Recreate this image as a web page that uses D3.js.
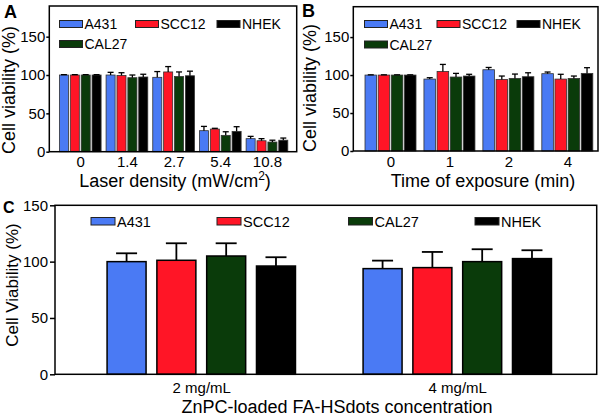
<!DOCTYPE html>
<html><head><meta charset="utf-8">
<script src="https://cdn.jsdelivr.net/npm/d3@7"></script>
<style>body{margin:0;background:#fff} svg{display:block} text{font-family:"Liberation Sans",Arial,sans-serif;fill:#000}</style>
</head><body><svg id="chart" width="600" height="417"></svg>
<script>
// ---------- data ----------
const seriesNames = ["A431", "SCC12", "CAL27", "NHEK"];
const seriesColors = ["#4a7af4", "#ff1526", "#0a3b0a", "#000000"];
const yTicks = [0, 50, 100, 150];

// Panel A: laser density
const laserDensity = ["0", "1.4", "2.7", "5.4", "10.8"];
const laserA431  = [100, 100, 97, 27.4, 17];
const laserSCC12 = [100, 99.5, 104, 29.5, 14.3];
const laserCAL27 = [100, 96.5, 98, 21.3, 12.6];
const laserNHEK  = [100, 97.4, 99, 26.5, 15];
const laserErrA431  = [0.5, 3.5, 7.5, 5.6, 3];
const laserErrSCC12 = [0.5, 3.5, 7, 1, 2.7];
const laserErrCAL27 = [0.5, 3.5, 6, 4.7, 2.4];
const laserErrNHEK  = [0.5, 3.6, 6, 6.1, 2.8];

// Panel B: time of exposure
const exposureTime = ["0", "1", "2", "4"];
const timeA431  = [100, 94.7, 107, 101.8];
const timeSCC12 = [100, 104.8, 94.3, 94.7];
const timeCAL27 = [100, 97.4, 95.6, 95.6];
const timeNHEK  = [100, 98.7, 97.8, 102.2];
const timeErrA431  = [0.3, 1.8, 3, 2.2];
const timeErrSCC12 = [0.3, 9.2, 4.4, 6.3];
const timeErrCAL27 = [0.3, 4.8, 5.7, 3.1];
const timeErrNHEK  = [0.3, 2.3, 5.2, 7.5];

// Panel C: concentration
const concentration = ["2 mg/mL", "4 mg/mL"];
const concA431  = [100, 93.8];
const concSCC12 = [101.2, 94.7];
const concCAL27 = [105, 100];
const concNHEK  = [96.1, 102.7];
const concErrA431  = [7.4, 7.1];
const concErrSCC12 = [15.1, 13.9];
const concErrCAL27 = [11.3, 11];
const concErrNHEK  = [7.8, 7.4];

// ---------- drawing ----------
const svg = d3.select("#chart");

function panel(o) {
  const g = svg.append("g");
  const y = d3.scaleLinear().domain([0, o.yMax]).range([o.y1, o.y0]);
  const x = d3.scalePoint().domain(o.cats).range([o.x0, o.x1]).padding(o.pad).align(o.align);
  const inner = d3.scaleBand().domain(seriesNames).range([-o.groupW / 2, o.groupW / 2]).paddingInner(o.innerPad);

  // bars
  seriesNames.forEach((name, si) => {
    const vals = o.vals[si], errs = o.errs[si];
    const sg = g.append("g");
    sg.selectAll("rect").data(o.cats).join("rect")
      .attr("x", (c) => x(c) + inner(name))
      .attr("width", inner.bandwidth())
      .attr("y", (c, i) => y(vals[i]))
      .attr("height", (c, i) => o.y1 - y(vals[i]))
      .attr("fill", seriesColors[si])
      .attr("stroke", o.barStroke)
      .attr("stroke-width", o.barStrokeW);
    const eg = g.append("g").attr("stroke", "#000").attr("stroke-width", o.errW);
    o.cats.forEach((c, i) => {
      const cx = x(c) + inner(name) + inner.bandwidth() / 2;
      eg.append("line").attr("x1", cx).attr("x2", cx).attr("y1", y(vals[i])).attr("y2", y(vals[i] + errs[i]));
      eg.append("line").attr("x1", cx - o.capW / 2).attr("x2", cx + o.capW / 2)
        .attr("y1", y(vals[i] + errs[i])).attr("y2", y(vals[i] + errs[i]));
    });
  });

  // frame
  g.append("rect").attr("x", o.x0).attr("y", o.y0).attr("width", o.x1 - o.x0).attr("height", o.y1 - o.y0)
    .attr("fill", "none").attr("stroke", "#000").attr("stroke-width", 1.5);

  // axes
  const ya = g.append("g").attr("transform", `translate(${o.x0},0)`)
    .call(d3.axisLeft(y).tickValues(yTicks).tickSize(o.yTickSize).tickPadding(o.yTickPad));
  ya.select(".domain").remove();
  ya.selectAll("line").attr("stroke-width", 1.5);
  ya.selectAll("text").style("font-size", o.tickFont + "px").style("font-family", '"Liberation Sans",Arial,sans-serif');

  const xa = g.append("g").attr("transform", `translate(0,${o.y1})`)
    .call(d3.axisBottom(x).tickSize(0).tickPadding(o.xTickPad));
  xa.select(".domain").remove();
  xa.selectAll("text").style("font-size", o.xTickFont + "px").style("font-family", '"Liberation Sans",Arial,sans-serif');

  // legend
  o.legend.forEach((l) => {
    const si = seriesNames.indexOf(l.name);
    g.append("rect").attr("x", l.x).attr("y", l.y).attr("width", o.swW).attr("height", o.swH)
      .attr("fill", seriesColors[si]).attr("stroke", "#222").attr("stroke-width", 1);
    g.append("text").attr("x", l.x + o.swW + 2).attr("y", l.y + o.swH + 1.5)
      .style("font-size", o.legFont + "px").text(l.name);
  });

  // titles
  g.append("text").attr("transform", `translate(${o.yLabX},${o.yLabY}) rotate(-90)`)
    .attr("text-anchor", "middle").attr("dominant-baseline", "central")
    .style("font-size", o.yLabFont + "px").text(o.yLabel);
  const xt = g.append("text").attr("x", o.xLabX).attr("y", o.xLabY).attr("text-anchor", "middle")
    .style("font-size", o.xLabFont + "px");
  o.xLabel(xt);

  g.append("text").attr("x", o.letterX).attr("y", o.letterY).style("font-size", o.letterFont + "px")
    .style("font-weight", "bold").text(o.letter);
}

panel({
  x0: 49.3, x1: 296.7, y0: 6, y1: 151.7, yMax: 190,
  cats: laserDensity, pad: 0.65, align: 0.51, groupW: 41.7, innerPad: 0.17,
  vals: [laserA431, laserSCC12, laserCAL27, laserNHEK],
  errs: [laserErrA431, laserErrSCC12, laserErrCAL27, laserErrNHEK],
  barStroke: "#333", barStrokeW: 0.8, errW: 1.3, capW: 6,
  yTickSize: 3, yTickPad: 1, tickFont: 15, xTickFont: 15, xTickPad: 5,
  legend: [{name: "A431", x: 59.5, y: 20.5}, {name: "SCC12", x: 135.5, y: 20.5}, {name: "NHEK", x: 217, y: 20.5}, {name: "CAL27", x: 59.5, y: 40.5}],
  swW: 23, swH: 7, legFont: 14,
  yLabel: "Cell viability (%)", yLabX: 9, yLabY: 90, yLabFont: 18,
  xLabX: 175, xLabY: 187, xLabFont: 18,
  xLabel: (t) => { t.append("tspan").text("Laser density (mW/cm"); t.append("tspan").attr("dy", -7).style("font-size", "12px").text("2"); t.append("tspan").attr("dy", 7).text(")"); },
  letter: "A", letterX: 4, letterY: 17.5, letterFont: 18
});

panel({
  x0: 353.3, x1: 598, y0: 6.7, y1: 151, yMax: 190,
  cats: exposureTime, pad: 0.576, align: 0.548, groupW: 51, innerPad: 0.12,
  vals: [timeA431, timeSCC12, timeCAL27, timeNHEK],
  errs: [timeErrA431, timeErrSCC12, timeErrCAL27, timeErrNHEK],
  barStroke: "#333", barStrokeW: 0.8, errW: 1.3, capW: 6,
  yTickSize: 3, yTickPad: 1, tickFont: 15, xTickFont: 15, xTickPad: 5,
  legend: [{name: "A431", x: 364.5, y: 20.5}, {name: "SCC12", x: 437, y: 20.5}, {name: "NHEK", x: 517, y: 20.5}, {name: "CAL27", x: 364.5, y: 41}],
  swW: 23, swH: 7, legFont: 14,
  yLabel: "Cell viability (%)", yLabX: 310, yLabY: 88, yLabFont: 18,
  xLabX: 483, xLabY: 187, xLabFont: 18,
  xLabel: (t) => t.text("Time of exposure (min)"),
  letter: "B", letterX: 302, letterY: 17, letterFont: 18
});

panel({
  x0: 55, x1: 596.7, y0: 205.3, y1: 374.3, yMax: 150,
  cats: concentration, pad: 0.558, align: 0.512, groupW: 188.4, innerPad: 0.217,
  vals: [concA431, concSCC12, concCAL27, concNHEK],
  errs: [concErrA431, concErrSCC12, concErrCAL27, concErrNHEK],
  barStroke: "#000", barStrokeW: 1.5, errW: 1.8, capW: 21,
  yTickSize: 5, yTickPad: 2, tickFont: 15, xTickFont: 15, xTickPad: 8,
  legend: [{name: "A431", x: 91, y: 217.5}, {name: "SCC12", x: 217, y: 217.5}, {name: "CAL27", x: 348.5, y: 217.5}, {name: "NHEK", x: 475, y: 217.5}],
  swW: 24, swH: 7.5, legFont: 14.5,
  yLabel: "Cell Viability (%)", yLabX: 12, yLabY: 285, yLabFont: 17,
  xLabX: 337, xLabY: 412.5, xLabFont: 18,
  xLabel: (t) => t.text("ZnPC-loaded FA-HSdots concentration"),
  letter: "C", letterX: 3, letterY: 213, letterFont: 16
});
</script>
</body></html>
